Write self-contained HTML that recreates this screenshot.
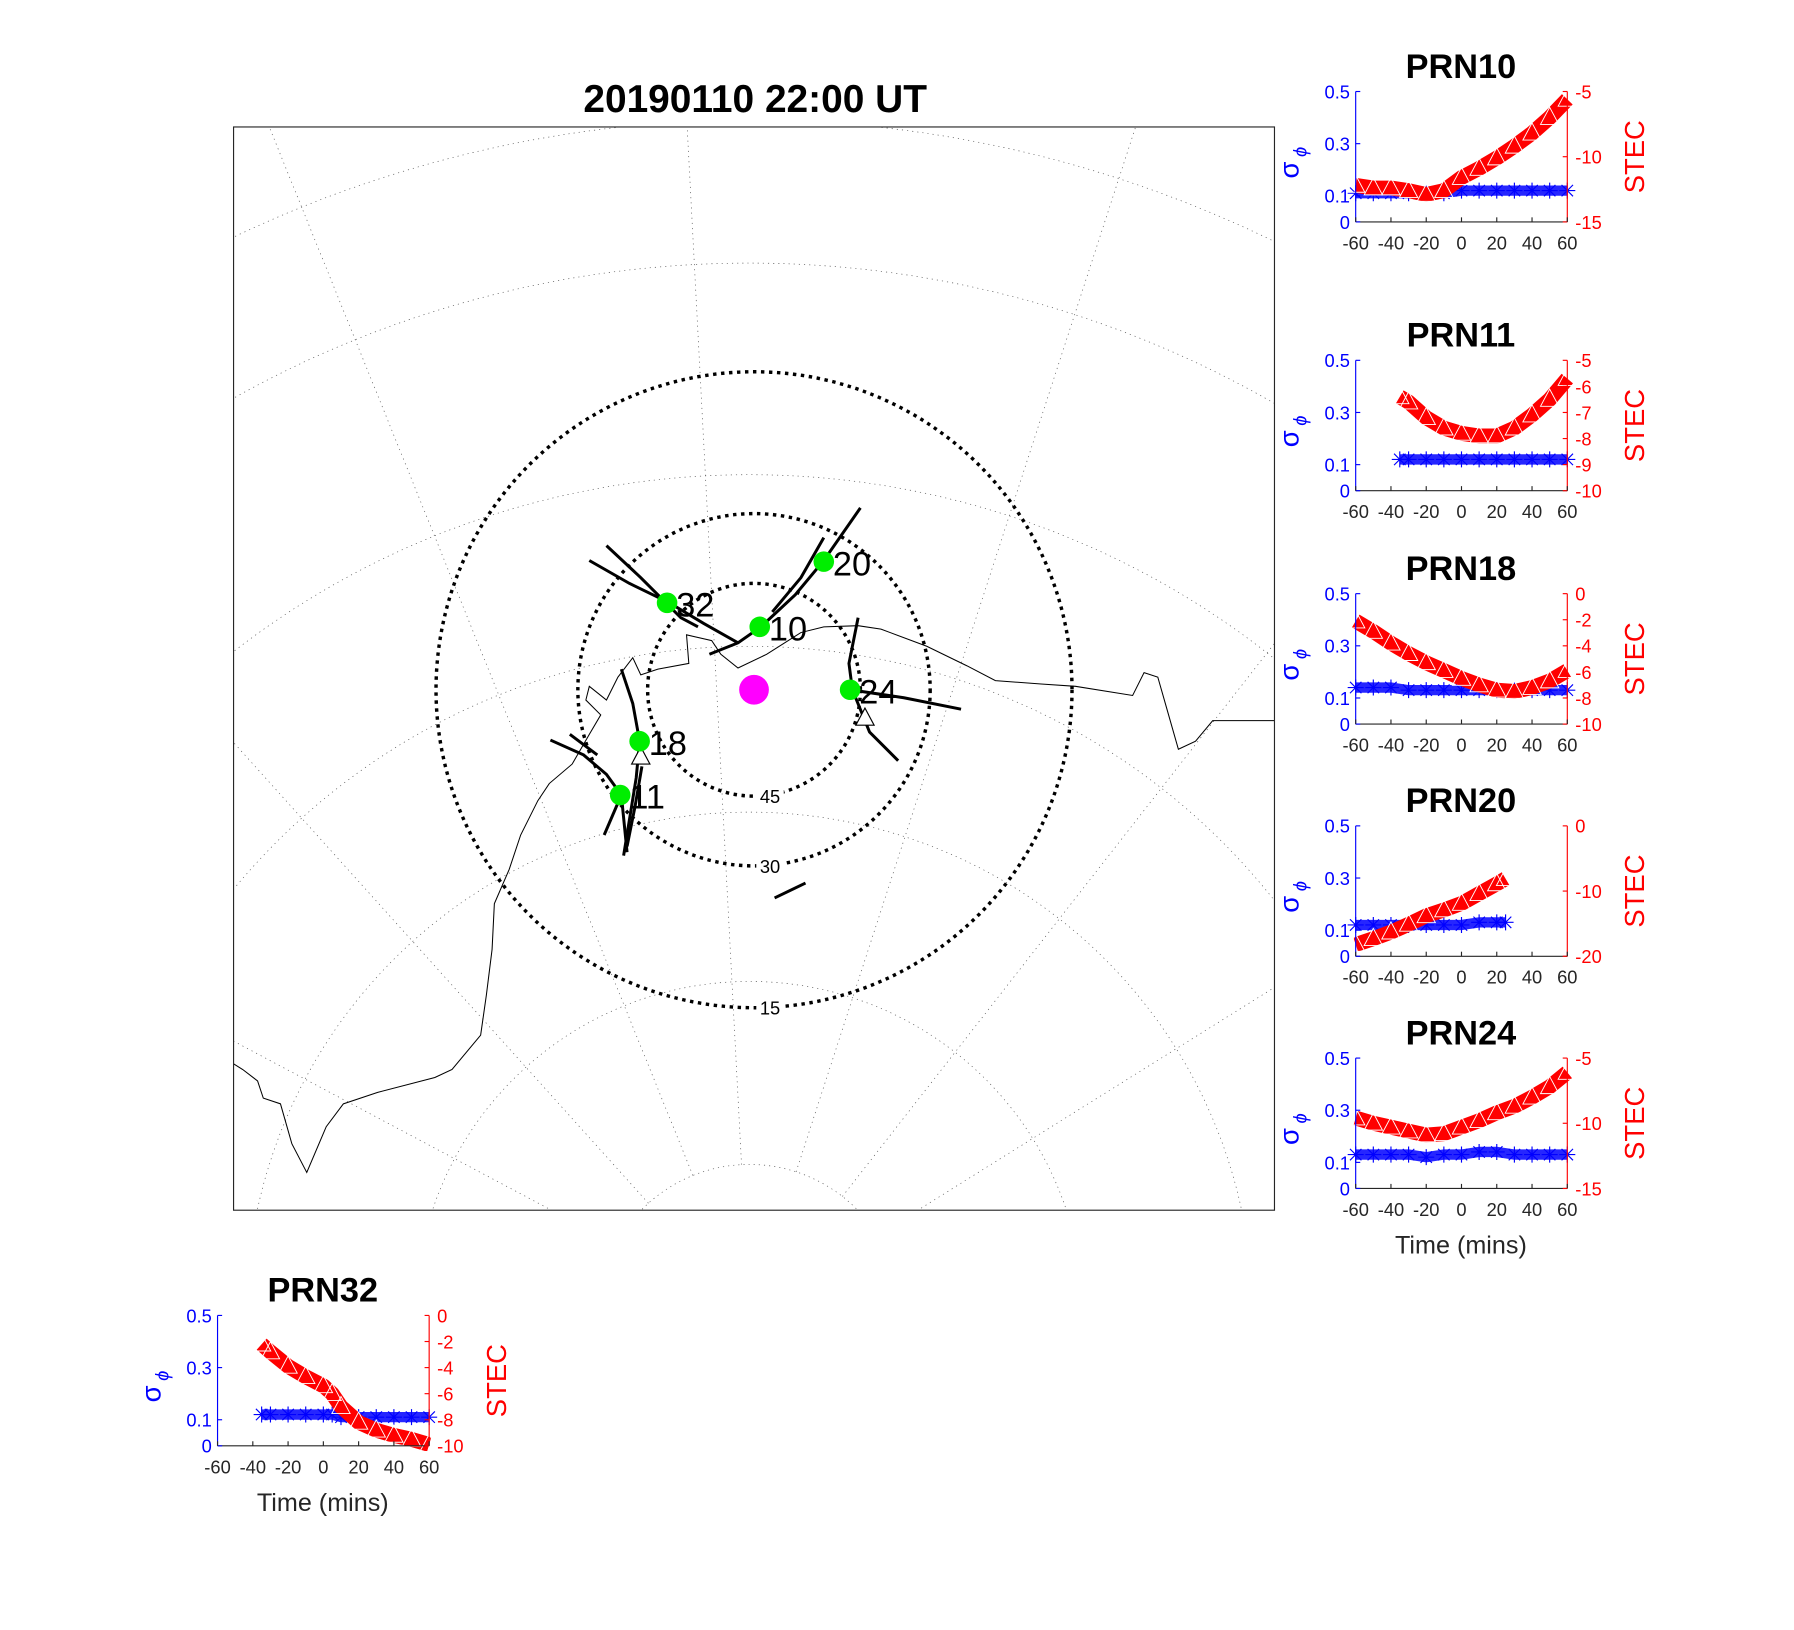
<!DOCTYPE html>
<html><head><meta charset="utf-8">
<style>
html,body{margin:0;padding:0;background:#fff;width:1794px;height:1630px;overflow:hidden;}
svg{display:block;font-family:"Liberation Sans",sans-serif;}
</style></head>
<body>
<svg id="fig" width="1794" height="1630" viewBox="0 0 1568 1425" xmlns="http://www.w3.org/2000/svg">
<rect x="0" y="0" width="1568" height="1425" fill="#fff"/>
<text x="660" y="98" font-size="34" font-weight="bold" text-anchor="middle">20190110 22:00 UT</text>
<g id="map"></g>
<g id="panels"></g>
</svg>
<script>
// ---------- map data ----------
const gridRadii = [132, 292, 440, 585, 735, 920, 1045];
const meridianAngles = [-62, -42, -22, -3, 18, 38, 58];
const elevLabels = ["45", "30", "15"];
const elevRadii = [93, 154, 278];
const satNames = ["32", "10", "20", "24", "18", "11"];
const satX = [583, 664, 720, 743, 559, 542];
const satY = [527, 548, 491, 603, 648, 695];

// ---------- panel data ----------
const tickX = [-60, -40, -20, 0, 20, 40, 60];
const prnNames = ["PRN10", "PRN11", "PRN18", "PRN20", "PRN24", "PRN32"];
const stecMin = [-15, -10, -10, -20, -15, -10];
const stecMax = [-5, -5, 0, 0, -5, 0];
const stecTicks = [[-5,-10,-15],[-5,-6,-7,-8,-9,-10],[0,-2,-4,-6,-8,-10],[0,-10,-20],[-5,-10,-15],[0,-2,-4,-6,-8,-10]];
const t10 = [-60,-50,-40,-30,-20,-10,0,10,20,30,40,50,60];
const stec10 = [-12.2,-12.4,-12.4,-12.6,-12.9,-12.6,-11.6,-10.9,-10.1,-9.2,-8.2,-7.0,-5.6];
const sig10 = [0.11,0.11,0.11,0.11,0.11,0.11,0.12,0.12,0.12,0.12,0.12,0.12,0.12];
const t11 = [-35,-30,-20,-10,0,10,20,30,40,50,60];
const stec11 = [-6.4,-6.6,-7.2,-7.6,-7.8,-7.9,-7.9,-7.6,-7.1,-6.5,-5.7];
const sig11 = [0.12,0.12,0.12,0.12,0.12,0.12,0.12,0.12,0.12,0.12,0.12];
const t18 = [-60,-50,-40,-30,-20,-10,0,10,20,30,40,50,60];
const stec18 = [-2.1,-2.9,-3.8,-4.6,-5.3,-5.9,-6.5,-7.0,-7.4,-7.5,-7.2,-6.7,-5.9];
const sig18 = [0.14,0.14,0.14,0.13,0.13,0.13,0.13,0.13,0.13,0.13,0.13,0.13,0.13];
const t20 = [-60,-50,-40,-30,-20,-10,0,10,20,25];
const stec20 = [-18.2,-17.3,-16.3,-15.1,-13.8,-12.9,-11.9,-10.4,-8.9,-8.1];
const sig20 = [0.12,0.12,0.12,0.12,0.12,0.12,0.12,0.13,0.13,0.13];
const t24 = [-60,-50,-40,-30,-20,-10,0,10,20,30,40,50,60];
const stec24 = [-9.6,-10.0,-10.3,-10.6,-10.9,-10.8,-10.3,-9.8,-9.2,-8.7,-8.0,-7.2,-6.1];
const sig24 = [0.13,0.13,0.13,0.13,0.12,0.13,0.13,0.14,0.14,0.13,0.13,0.13,0.13];
const t32 = [-35,-30,-20,-10,0,5,10,20,30,40,50,60];
const stec32 = [-2.2,-2.8,-3.9,-4.7,-5.4,-6.0,-7.0,-8.2,-8.8,-9.2,-9.5,-9.9];
const sig32 = [0.12,0.12,0.12,0.12,0.12,0.12,0.11,0.11,0.11,0.11,0.11,0.11];
const panelTimes = [t10,t11,t18,t20,t24,t32];
const panelStec = [stec10,stec11,stec18,stec20,stec24,stec32];
const panelSig = [sig10,sig11,sig18,sig20,sig24,sig32];

const NS = "http://www.w3.org/2000/svg";
function mk(tag, attrs, parent){const e=document.createElementNS(NS,tag);for(const k in attrs)e.setAttribute(k,attrs[k]);parent.appendChild(e);return e;}

// ---------- map ----------
const map = document.getElementById('map');
const defs = mk('defs',{},map);
const cp = mk('clipPath',{id:'mapclip'},defs);
mk('rect',{x:204,y:111,width:910,height:947},cp);
const gridG = mk('g',{'clip-path':'url(#mapclip)'},map);


const GCX=655, GCY=1150;
gridRadii.forEach(r=>{
  const c=mk('circle',{cx:GCX,cy:GCY,r:r,fill:'none',stroke:'#555','stroke-width':0.6,'stroke-dasharray':'1 3.5'},gridG);
  
  
});
meridianAngles.forEach(a=>{
  const rad=a*Math.PI/180;
  const x2=GCX+1400*Math.sin(rad), y2=GCY-1400*Math.cos(rad);
  const l=mk('line',{x1:GCX+132*Math.sin(rad),y1:GCY-132*Math.cos(rad),x2:x2,y2:y2,stroke:'#555','stroke-width':0.6,'stroke-dasharray':'1 3.5'},gridG);
  
  
});
const coast = mk('polyline',{fill:'none',stroke:'#000','stroke-width':0.9,points:"1114,630 1060,630 1045,648 1030,655 1020,620 1012,592 1000,588 990,608 940,600 910,598 870,595 845,582 810,565 770,550 750,547 720,548 700,553 670,572 645,584 630,572 622,560 600,555 602,580 575,585 560,590 553,575 540,592 530,612 515,600 512,612 525,625 515,642 500,668 480,685 470,700 455,730 445,760 432,790 430,830 425,870 420,905 395,935 380,942 330,955 300,965 285,985 268,1025 255,1000 245,965 230,960 225,945 212,935 204,930"},gridG);


const MCX=659, MCY=603;
elevRadii.forEach((r,i)=>{
  const c=mk('circle',{cx:MCX,cy:MCY,r:r,fill:'none',stroke:'#000','stroke-width':3,'stroke-dasharray':'3 4'},map);
  
  
  mk('rect',{x:MCX+2,y:MCY+r-9,width:24,height:18,fill:'#fff'},map);
  const t=mk('text',{x:MCX+14,y:MCY+r+6,'font-size':16,'text-anchor':'middle'},map);
  t.textContent=elevLabels[i];
  
  
});
// satellite tracks
const tracks=["515,490 550,510 585,527 615,545 645,562","530,477 560,505 595,540 610,548","620,572 645,562 665,548 695,520 720,490 752,444","675,535 700,505 720,470","750,540 742,580 745,603 760,640 785,665","743,603 790,610 840,620","543,585 553,615 559,648 556,680 545,748","481,647 510,660 530,677 543,695 548,745","498,642 522,660","528,730 543,695","561,670 555,705 548,740","677,785 704,772"];
tracks.forEach(p=>{
  const l=mk('polyline',{points:p,fill:'none',stroke:'#000','stroke-width':2.6},map);
  
  
});
[[560,662],[756,628]].forEach(([x,y])=>{
  const tr=mk('polygon',{points:`${x},${y-9} ${x-8},${y+6} ${x+8},${y+6}`,fill:'#fff',stroke:'#000','stroke-width':1},map);
  
  
});
const mag=mk('circle',{cx:MCX,cy:MCY,r:13,fill:'#ff00ff'},map);


satNames.forEach((n,i)=>{
  const c=mk('circle',{cx:satX[i],cy:satY[i],r:9,fill:'#00ee00'},map);
  
  
  const t=mk('text',{x:satX[i]+8,y:satY[i]+12,'font-size':30},map);
  t.textContent=n;
  
  
});
const frame=mk('rect',{x:204,y:111,width:910,height:947,fill:'none',stroke:'#262626','stroke-width':1},map);



// ---------- panels ----------
const panelsG=document.getElementById('panels');
const boxX=[1185,1185,1185,1185,1185,190];
const boxY=[80,315,519,722,925,1150];
const W=185, H=114;
const showXTitle=[false,false,false,false,true,true];
prnNames.forEach((name,p)=>{
  const g=mk('g',{},panelsG);
  
  
  const x0=boxX[p], y0=boxY[p];
  const sx=t=>x0+(t+60)/120*W;
  const syL=v=>y0+H-(v/0.5)*H;
  const syR=v=>y0+H-(v-stecMin[p])/(stecMax[p]-stecMin[p])*H;
  const tt=mk('text',{x:x0+92,y:y0-12,'font-size':30,'font-weight':'bold','text-anchor':'middle'},g);
  tt.textContent=name;
  
  
  const ts=panelTimes[p], st=panelStec[p], sg=panelSig[p];
  const sigPts=ts.map((t,i)=>sx(t)+','+syL(sg[i])).join(' ');
  const sl=mk('polyline',{points:sigPts,fill:'none',stroke:'#0000ff','stroke-width':9,'stroke-opacity':0.85},g);
  
  
  ts.forEach((t,i)=>{
    const cx=sx(t), cy=syL(sg[i]);
    const a=mk('path',{d:`M${cx-7},${cy}H${cx+7}M${cx},${cy-7}V${cy+7}M${cx-5},${cy-5}L${cx+5},${cy+5}M${cx-5},${cy+5}L${cx+5},${cy-5}`,stroke:'#0000ff','stroke-width':1},g);
    
    
  });
  const stPts=ts.map((t,i)=>sx(t)+','+syR(st[i])).join(' ');
  const rl=mk('polyline',{points:stPts,fill:'none',stroke:'#ff0000','stroke-width':13,'stroke-linejoin':'round'},g);
  
  
  ts.forEach((t,i)=>{
    const cx=sx(t), cy=syR(st[i]);
    const tr=mk('polygon',{points:`${cx},${cy-9} ${cx-8},${cy+6} ${cx+8},${cy+6}`,fill:'none',stroke:'#fff','stroke-width':0.8},g);
    
    
  });
  mk('line',{x1:x0,y1:y0,x2:x0,y2:y0+H,stroke:'#0000ff','stroke-width':1},g);
  mk('line',{x1:x0+W,y1:y0,x2:x0+W,y2:y0+H,stroke:'#ff0000','stroke-width':1},g);
  mk('line',{x1:x0,y1:y0+H,x2:x0+W,y2:y0+H,stroke:'#262626','stroke-width':1},g);
  [0,0.1,0.3,0.5].forEach(v=>{
    const y=syL(v);
    mk('line',{x1:x0,y1:y,x2:x0+4,y2:y,stroke:'#0000ff'},g);
    const t=mk('text',{x:x0-5,y:y+6,'font-size':16,fill:'#0000ff','text-anchor':'end'},g);
    t.textContent=String(v);
    
    
  });
  stecTicks[p].forEach(v=>{
    const y=syR(v);
    mk('line',{x1:x0+W-4,y1:y,x2:x0+W,y2:y,stroke:'#ff0000'},g);
    const t=mk('text',{x:x0+W+7,y:y+6,'font-size':16,fill:'#ff0000'},g);
    t.textContent=String(v);
    
    
  });
  tickX.forEach(v=>{
    const x=sx(v);
    mk('line',{x1:x,y1:y0+H,x2:x,y2:y0+H-4,stroke:'#262626'},g);
    const t=mk('text',{x:x,y:y0+H+24,'font-size':16,fill:'#262626','text-anchor':'middle'},g);
    t.textContent=String(v);
    
    
  });
  const sgl=mk('text',{x:0,y:0,'font-size':24,fill:'#0000ff',transform:`translate(${x0-50},${y0+76}) rotate(-90)`},g);
  sgl.innerHTML='σ<tspan font-size="16" font-style="italic" dy="7" dx="4">ϕ</tspan>';
  
  
  const stl=mk('text',{x:0,y:0,'font-size':24,fill:'#ff0000','text-anchor':'middle',transform:`translate(${x0+W+67},${y0+57}) rotate(-90)`},g);
  stl.textContent='STEC';
  
  
  if(showXTitle[p]){
    const xt=mk('text',{x:x0+92,y:y0+H+57,'font-size':22,fill:'#262626','text-anchor':'middle'},g);
    xt.textContent='Time (mins)';
    
    
  }
});
</script>
</body></html>
